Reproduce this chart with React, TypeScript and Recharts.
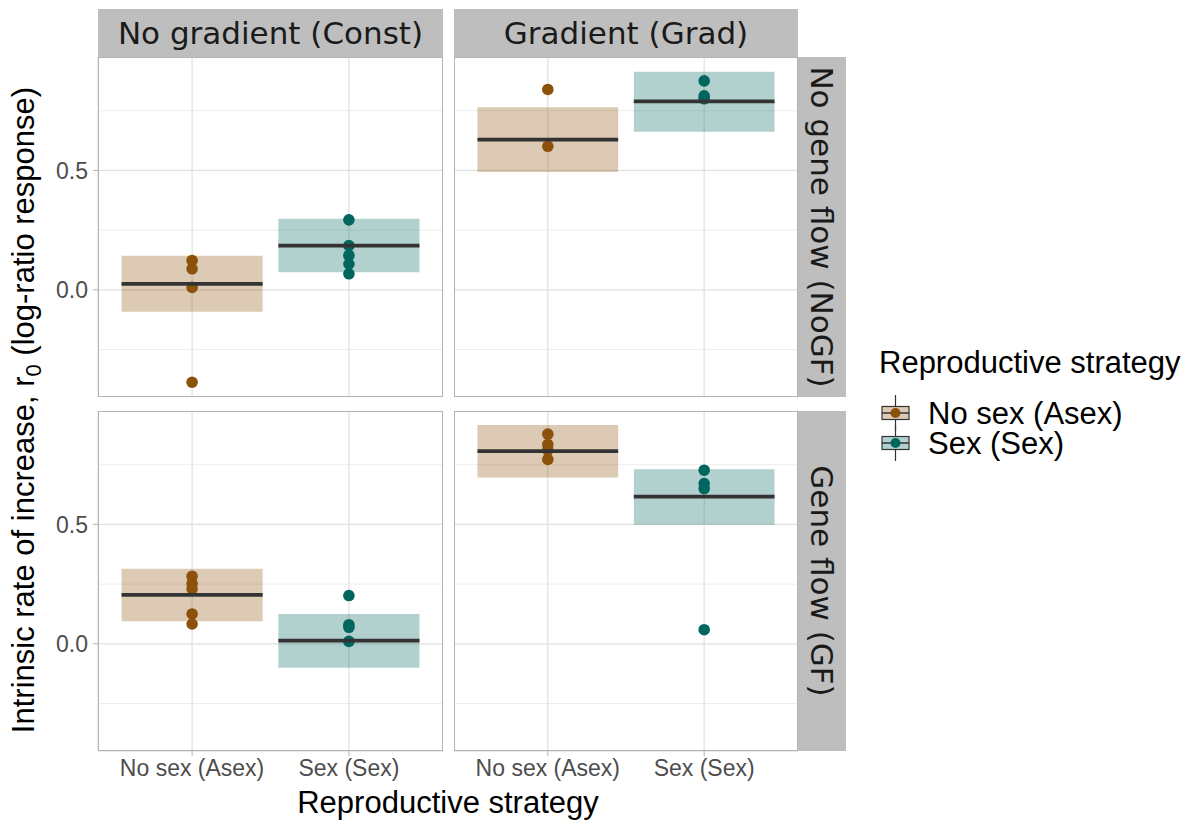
import React from 'react';
import { ScatterChart, Scatter, XAxis, YAxis, CartesianGrid, ReferenceArea, ReferenceLine } from 'recharts';

// facet labels and categories
const strategies = ['No sex (Asex)', 'Sex (Sex)'];
const gradients = ['No gradient (Const)', 'Gradient (Grad)'];
const geneFlows = ['No gene flow (NoGF)', 'Gene flow (GF)'];
const strategyColors = ['#8C510A', '#01665E'];

// panel order: [NoGF-Const, NoGF-Grad, GF-Const, GF-Grad], each [Asex, Sex]
const estMean = [[0.025, 0.185], [0.629, 0.789], [0.205, 0.013], [0.807, 0.616]];
const estLower = [[-0.092, 0.073], [0.493, 0.662], [0.094, -0.100], [0.697, 0.499]];
const estUpper = [[0.143, 0.298], [0.765, 0.913], [0.314, 0.125], [0.916, 0.731]];

// replicate values
const replicatesAsex = [
  [0.123, 0.088, 0.010, -0.387],
  [0.839, 0.601],
  [0.283, 0.253, 0.230, 0.125, 0.083],
  [0.878, 0.835, 0.811, 0.772],
];
const replicatesSex = [
  [0.293, 0.185, 0.144, 0.108, 0.067],
  [0.875, 0.812, 0.800],
  [0.202, 0.080, 0.069, 0.010],
  [0.727, 0.671, 0.650, 0.059],
];

const yDomain: [number, number] = [-0.449, 0.975];
const yMajor = [0, 0.5];
const yMinor = [-0.25, 0.25, 0.75];

const COLS = [{ left: 98, width: 345 }, { left: 454, width: 344 }];
const ROWS = [{ top: 57, height: 340 }, { top: 411, height: 340 }];
const SANS = '"Liberation Sans", Arial, sans-serif';
const STRIP_FONT = '"DejaVu Sans", sans-serif';
const HALF = 0.45;
const TITLE_SIZE = 31;

function Panel({ row, col }: { row: number; col: number }) {
  const idx = row * 2 + col;
  const showY = col === 0;
  const showX = row === 1;
  const yW = showY ? COLS[0].left : 0;
  const xH = showX ? 40 : 0;
  const left = showY ? 0 : COLS[col].left;
  const width = COLS[col].width + yW;
  const height = ROWS[row].height + xH;

  const asex = replicatesAsex[idx].map((v) => ({ x: 1, y: v }));
  const sex = replicatesSex[idx].map((v) => ({ x: 2, y: v }));

  const tickStyle = { fill: '#4D4D4D', fontSize: 23, fontFamily: SANS };

  return (
    <div style={{ position: 'absolute', left, top: ROWS[row].top }}>
      <ScatterChart width={width} height={height} margin={{ top: 0, right: 0, bottom: 0, left: 0 }}>
        <CartesianGrid yAxisId="minor" vertical={false} stroke="#EDEDED" strokeWidth={1} />
        <CartesianGrid stroke="#E0E0E0" strokeWidth={1.2} />
        <XAxis
          type="number"
          dataKey="x"
          domain={[0.4, 2.6]}
          ticks={[1, 2]}
          tickFormatter={(v: number) => strategies[v - 1]}
          hide={!showX}
          height={40}
          axisLine={false}
          tickLine={{ stroke: '#B3B3B3' }}
          tickSize={5}
          tickMargin={4}
          tick={tickStyle}
          interval={0}
        />
        <YAxis
          type="number"
          dataKey="y"
          domain={yDomain}
          allowDataOverflow
          ticks={yMajor}
          tickFormatter={(v: number) => v.toFixed(1)}
          hide={!showY}
          width={yW || 60}
          axisLine={false}
          tickLine={{ stroke: '#B3B3B3' }}
          tickSize={5}
          tickMargin={5}
          tick={tickStyle}
        />
        <YAxis yAxisId="minor" type="number" domain={yDomain} allowDataOverflow ticks={yMinor} hide />
        {strategies.map((s, i) => (
          <ReferenceArea
            key={`box-${s}`}
            x1={i + 1 - HALF}
            x2={i + 1 + HALF}
            y1={estLower[idx][i]}
            y2={estUpper[idx][i]}
            fill={strategyColors[i]}
            fillOpacity={0.3}
            stroke="none"
            ifOverflow="visible"
          />
        ))}
        <Scatter
          data={asex}
          isAnimationActive={false}
          shape={(p: any) => <circle cx={p.cx} cy={p.cy} r={5.8} fill={strategyColors[0]} />}
        />
        <Scatter
          data={sex}
          isAnimationActive={false}
          shape={(p: any) => <circle cx={p.cx} cy={p.cy} r={5.8} fill={strategyColors[1]} />}
        />
        {strategies.map((s, i) => (
          <ReferenceLine
            key={`mean-${s}`}
            segment={[
              { x: i + 1 - HALF, y: estMean[idx][i] },
              { x: i + 1 + HALF, y: estMean[idx][i] },
            ]}
            stroke="#333333"
            strokeWidth={3.8}
            ifOverflow="visible"
            zIndex={700}
          />
        ))}
      </ScatterChart>
      <div
        style={{
          position: 'absolute',
          left: yW,
          top: 0,
          width: COLS[col].width,
          height: ROWS[row].height,
          border: '1px solid #B3B3B3',
          boxSizing: 'border-box',
          pointerEvents: 'none',
        }}
      />
    </div>
  );
}

function LegendKey({ y, color }: { y: number; color: string }) {
  return (
    <g>
      <line x1={895.5} x2={895.5} y1={y - 18} y2={y + 18} stroke="#333333" strokeWidth={1.2} />
      <rect x={882} y={y - 6.5} width={27} height={13} fill="#FFFFFF" />
      <rect x={882} y={y - 6.5} width={27} height={13} fill={color} fillOpacity={0.3} stroke="#333333" strokeWidth={1.2} />
      <line x1={882} x2={909} y1={y} y2={y} stroke="#333333" strokeWidth={1.5} />
      <circle cx={895.5} cy={y} r={5} fill={color} />
    </g>
  );
}

export default function App() {
  return (
    <div style={{ position: 'absolute', left: 0, top: 0, width: 1192, height: 821, background: '#FFFFFF', overflow: 'hidden' }}>
      <svg width={1192} height={821} style={{ position: 'absolute', left: 0, top: 0 }}>
        {/* top strips */}
        {gradients.map((g, c) => (
          <g key={g}>
            <rect x={COLS[c].left} y={9} width={COLS[c].width} height={48} fill="#BEBEBE" />
            <text
              x={COLS[c].left + COLS[c].width / 2}
              y={44}
              textAnchor="middle"
              fontFamily={STRIP_FONT}
              fontSize={TITLE_SIZE}
              fill="#1A1A1A"
            >
              {g}
            </text>
          </g>
        ))}
        {/* right strips */}
        {geneFlows.map((g, r) => (
          <g key={g}>
            <rect x={798} y={ROWS[r].top} width={48} height={ROWS[r].height} fill="#BEBEBE" />
            <text
              transform={`translate(811,${ROWS[r].top + ROWS[r].height / 2}) rotate(90)`}
              textAnchor="middle"
              fontFamily={STRIP_FONT}
              fontSize={TITLE_SIZE}
              fill="#1A1A1A"
            >
              {g}
            </text>
          </g>
        ))}
        {/* axis titles */}
        <text x={448} y={813} textAnchor="middle" fontFamily={SANS} fontSize={TITLE_SIZE} fill="#000000">
          Reproductive strategy
        </text>
        <text
          transform="translate(34,410) rotate(-90)"
          textAnchor="middle"
          fontFamily={SANS}
          fontSize={TITLE_SIZE}
          fill="#000000"
        >
          Intrinsic rate of increase, r
          <tspan fontSize={22} dy={7}>0</tspan>
          <tspan dy={-7}> (log-ratio response)</tspan>
        </text>
        {/* legend */}
        <text x={879} y={373} fontFamily={SANS} fontSize={TITLE_SIZE} fill="#000000">
          Reproductive strategy
        </text>
        {strategies.map((s, i) => (
          <g key={s}>
            <LegendKey y={413 + i * 30} color={strategyColors[i]} />
            <text x={928} y={424 + i * 30} fontFamily={SANS} fontSize={TITLE_SIZE} fill="#000000">
              {s}
            </text>
          </g>
        ))}
      </svg>
      {ROWS.map((_, r) => COLS.map((__, c) => <Panel key={`${r}-${c}`} row={r} col={c} />))}
    </div>
  );
}
